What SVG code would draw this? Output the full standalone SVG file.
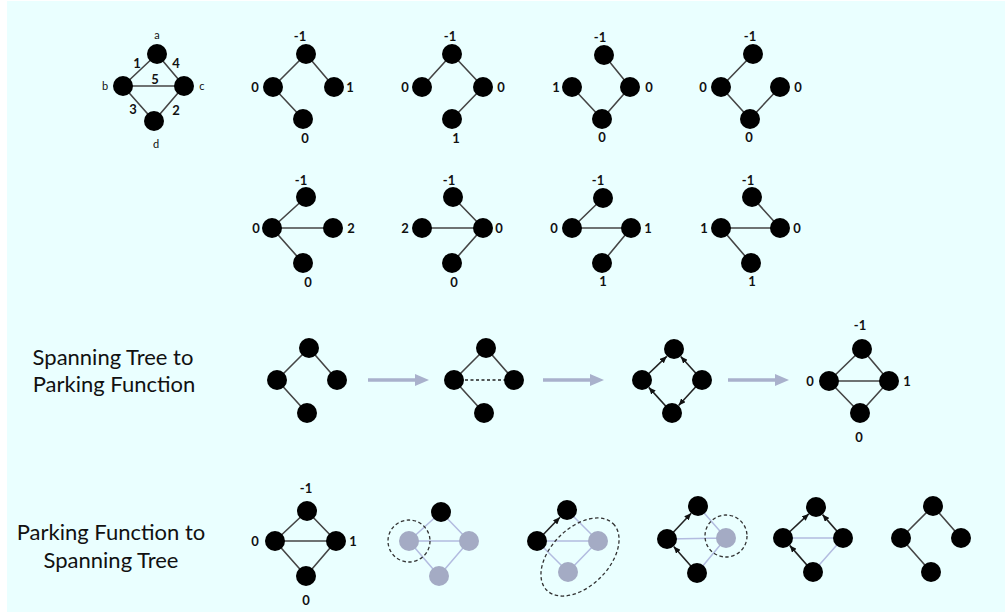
<svg xmlns="http://www.w3.org/2000/svg" width="1005" height="612" viewBox="0 0 1005 612">
<style>
.e{stroke:#454545;stroke-width:1.6;fill:none}
.el{stroke:#b3bce0;stroke-width:1.5;fill:none}
.ed{stroke:#222;stroke-width:1.6;stroke-dasharray:3 2.5;fill:none}
.ea{stroke:#222;stroke-width:1.6;fill:none;marker-end:url(#ah)}
.big{stroke:#a9b1cc;stroke-width:3.5;fill:none;marker-end:url(#bah)}
.dc{stroke:#333;stroke-width:1.3;stroke-dasharray:3.5 2.5;fill:none}
.n{fill:#000}
.ng{fill:#a4abc4}
.l{font-family:Lato,"Open Sans",sans-serif;font-weight:bold;font-size:13px;fill:#111;text-anchor:middle}
.s{font-family:Lato,"Open Sans",sans-serif;font-size:11px;fill:#111;text-anchor:middle}
.t{font-family:Lato,"Open Sans",sans-serif;font-size:22px;fill:#111;text-anchor:middle}
</style>
<defs>
<marker id="ah" markerUnits="userSpaceOnUse" markerWidth="7" markerHeight="6" refX="7" refY="3" orient="auto"><path d="M0,0 L7,3 L0,6 z" fill="#111"/></marker>
<marker id="bah" markerUnits="userSpaceOnUse" markerWidth="14" markerHeight="12" refX="2" refY="6" orient="auto"><path d="M0,0 L14,6 L0,12 z" fill="#a9b1cc"/></marker>
</defs>
<rect x="7" y="1" width="998" height="611" fill="#eaffff"/>

<g id="connectors">
<path class="e" d="M157,54 L123,86 M157,54 L184,86 M123,86 L184,86 M123,86 L154,121 M184,86 L154,121"/>
<path class="e" d="M306,54 L273,87 M273,87 L303,119 M306,54 L334,87"/>
<path class="e" d="M452,54 L422,87 M452,54 L483,87 M483,87 L452,119"/>
<path class="e" d="M604,55 L630,87 M630,87 L602,119 M572,87 L602,119"/>
<path class="e" d="M753,54 L721,87 M721,87 L750,119 M750,119 L780,87"/>
<path class="e" d="M306,197 L272,228 M272,228 L333,228 M272,228 L303,263"/>
<path class="e" d="M453,197 L483,228 M422,228 L483,228 M483,228 L452,263"/>
<path class="e" d="M603,198 L572,228 M572,228 L631,228 M631,228 L602,263"/>
<path class="e" d="M752,197 L780,228 M721,228 L780,228 M721,228 L751,263"/>
<path class="e" d="M309,348 L277,380 M309,348 L337,380 M277,380 L307,413"/>
<line class="big" x1="368" y1="380" x2="417" y2="380"/>
<path class="e" d="M486,348 L454,380 M486,348 L514,380 M454,380 L484,413"/>
<path class="ed" d="M454,380 L514,380"/>
<line class="big" x1="543" y1="380" x2="592" y2="380"/>
<path class="ea" d="M642,380 L666.8,356.3"/>
<path class="ea" d="M702,380 L680.7,356.5"/>
<path class="ea" d="M702,380 L678.6,405.5"/>
<path class="ea" d="M672,413 L648.8,387.4"/>
<line class="big" x1="728" y1="380" x2="777" y2="380"/>
<path class="e" d="M862,349 L829,381 M862,349 L889,381 M829,381 L889,381 M829,381 L860,413 M889,381 L860,413"/>
<path class="e" d="M307,511 L275,541 M307,511 L336,541 M275,541 L336,541 M275,541 L306,576 M336,541 L306,576"/>
<path class="el" d="M441,512 L409,541 M441,512 L469,541 M409,541 L469,541 M409,541 L439,576 M469,541 L439,576"/>
<path class="el" d="M567,510 L598,541 M537,541 L598,541 M537,541 L568,572 M598,541 L568,572"/>
<path class="ea" d="M537,541 L560,517.3"/>
<path class="el" d="M698,506 L726,538 M667,539 L726,538 M726,538 L697,573"/>
<path class="ea" d="M667,539 L691.2,513.3"/>
<path class="ea" d="M697,573 L673.7,546.5"/>
<path class="el" d="M783,538 L843,538 M843,538 L813,572"/>
<path class="ea" d="M783,538 L808.8,513.9"/>
<path class="ea" d="M843,538 L822.5,514.6"/>
<path class="ea" d="M813,572 L789.7,545.4"/>
<path class="e" d="M933,506 L901,538 M933,506 L961,538 M901,538 L931,572"/>
</g>

<g id="key-graph">
<circle class="n" cx="157" cy="54" r="10"/><circle class="n" cx="123" cy="86" r="10"/><circle class="n" cx="184" cy="86" r="10"/><circle class="n" cx="154" cy="121" r="10"/>
<text class="s" x="157" y="39">a</text><text class="s" x="105" y="90">b</text><text class="s" x="202" y="90">c</text><text class="s" x="156" y="148">d</text>
<text class="l" x="137" y="68">1</text><text class="l" x="176" y="68">4</text><text class="l" x="155" y="84">5</text><text class="l" x="133" y="114">3</text><text class="l" x="176" y="115">2</text>
</g>

<g id="tree1">
<circle class="n" cx="306" cy="54" r="10"/><circle class="n" cx="273" cy="87" r="10"/><circle class="n" cx="334" cy="87" r="10"/><circle class="n" cx="303" cy="119" r="10"/>
<text class="l" x="300" y="41">-1</text><text class="l" x="255" y="92">0</text><text class="l" x="350" y="92">1</text><text class="l" x="305" y="143">0</text>
</g>
<g id="tree2">
<circle class="n" cx="452" cy="54" r="10"/><circle class="n" cx="422" cy="87" r="10"/><circle class="n" cx="483" cy="87" r="10"/><circle class="n" cx="452" cy="119" r="10"/>
<text class="l" x="450" y="41">-1</text><text class="l" x="405" y="92">0</text><text class="l" x="501" y="92">0</text><text class="l" x="456" y="143">1</text>
</g>
<g id="tree3">
<circle class="n" cx="604" cy="55" r="10"/><circle class="n" cx="572" cy="87" r="10"/><circle class="n" cx="630" cy="87" r="10"/><circle class="n" cx="602" cy="119" r="10"/>
<text class="l" x="600" y="42">-1</text><text class="l" x="556" y="92">1</text><text class="l" x="649" y="92">0</text><text class="l" x="602" y="142">0</text>
</g>
<g id="tree4">
<circle class="n" cx="753" cy="54" r="10"/><circle class="n" cx="721" cy="87" r="10"/><circle class="n" cx="780" cy="87" r="10"/><circle class="n" cx="750" cy="119" r="10"/>
<text class="l" x="750" y="41">-1</text><text class="l" x="703" y="92">0</text><text class="l" x="798" y="92">0</text><text class="l" x="749" y="142">0</text>
</g>

<g id="tree5">
<circle class="n" cx="306" cy="197" r="10"/><circle class="n" cx="272" cy="228" r="10"/><circle class="n" cx="333" cy="228" r="10"/><circle class="n" cx="303" cy="263" r="10"/>
<text class="l" x="301" y="185">-1</text><text class="l" x="256" y="233">0</text><text class="l" x="351" y="233">2</text><text class="l" x="308" y="287">0</text>
</g>
<g id="tree6">
<circle class="n" cx="453" cy="197" r="10"/><circle class="n" cx="422" cy="228" r="10"/><circle class="n" cx="483" cy="228" r="10"/><circle class="n" cx="452" cy="263" r="10"/>
<text class="l" x="449" y="185">-1</text><text class="l" x="405" y="233">2</text><text class="l" x="499" y="233">0</text><text class="l" x="454" y="287">0</text>
</g>
<g id="tree7">
<circle class="n" cx="603" cy="198" r="10"/><circle class="n" cx="572" cy="228" r="10"/><circle class="n" cx="631" cy="228" r="10"/><circle class="n" cx="602" cy="263" r="10"/>
<text class="l" x="598" y="185">-1</text><text class="l" x="554" y="233">0</text><text class="l" x="648" y="233">1</text><text class="l" x="603" y="286">1</text>
</g>
<g id="tree8">
<circle class="n" cx="752" cy="197" r="10"/><circle class="n" cx="721" cy="228" r="10"/><circle class="n" cx="780" cy="228" r="10"/><circle class="n" cx="751" cy="263" r="10"/>
<text class="l" x="748" y="185">-1</text><text class="l" x="704" y="233">1</text><text class="l" x="797" y="233">0</text><text class="l" x="752" y="286">1</text>
</g>

<g id="label-st-pf">
<text class="t" x="113" y="365">Spanning Tree to</text>
<text class="t" x="114" y="392">Parking Function</text>
</g>
<g id="graph-a">
<circle class="n" cx="309" cy="348" r="10"/><circle class="n" cx="277" cy="380" r="10"/><circle class="n" cx="337" cy="380" r="10"/><circle class="n" cx="307" cy="413" r="10"/>
</g>
<g id="graph-b">
<circle class="n" cx="486" cy="348" r="10"/><circle class="n" cx="454" cy="380" r="10"/><circle class="n" cx="514" cy="380" r="10"/><circle class="n" cx="484" cy="413" r="10"/>
</g>
<g id="graph-c">
<circle class="n" cx="674" cy="349" r="10"/><circle class="n" cx="642" cy="380" r="10"/><circle class="n" cx="702" cy="380" r="10"/><circle class="n" cx="672" cy="413" r="10"/>
</g>
<g id="graph-d">
<circle class="n" cx="862" cy="349" r="10"/><circle class="n" cx="829" cy="381" r="10"/><circle class="n" cx="889" cy="381" r="10"/><circle class="n" cx="860" cy="413" r="10"/>
<text class="l" x="860" y="330">-1</text><text class="l" x="810" y="386">0</text><text class="l" x="907" y="386">1</text><text class="l" x="859" y="442">0</text>
</g>

<g id="label-pf-st">
<text class="t" x="111" y="540">Parking Function to</text>
<text class="t" x="111" y="568">Spanning Tree</text>
</g>
<g id="graph-e">
<circle class="n" cx="307" cy="511" r="10"/><circle class="n" cx="275" cy="541" r="10"/><circle class="n" cx="336" cy="541" r="10"/><circle class="n" cx="306" cy="576" r="10"/>
<text class="l" x="306" y="493">-1</text><text class="l" x="255" y="546">0</text><text class="l" x="353" y="546">1</text><text class="l" x="306" y="605">0</text>
</g>
<g id="graph-f">
<circle class="n" cx="441" cy="512" r="10"/><circle class="ng" cx="409" cy="541" r="10"/><circle class="ng" cx="469" cy="541" r="10"/><circle class="ng" cx="439" cy="576" r="10"/>
<circle class="dc" cx="409" cy="541" r="21"/>
</g>
<g id="graph-g">
<circle class="n" cx="567" cy="510" r="10"/><circle class="n" cx="537" cy="541" r="10"/><circle class="ng" cx="598" cy="541" r="10"/><circle class="ng" cx="568" cy="572" r="10"/>
<ellipse class="dc" cx="580" cy="557" rx="47" ry="29" transform="rotate(-45 580 557)"/>
</g>
<g id="graph-h">
<circle class="n" cx="698" cy="506" r="10"/><circle class="n" cx="667" cy="539" r="10"/><circle class="ng" cx="726" cy="538" r="10"/><circle class="n" cx="697" cy="573" r="10"/>
<circle class="dc" cx="726" cy="536" r="21"/>
</g>
<g id="graph-i">
<circle class="n" cx="816" cy="507" r="10"/><circle class="n" cx="783" cy="538" r="10"/><circle class="n" cx="843" cy="538" r="10"/><circle class="n" cx="813" cy="572" r="10"/>
</g>
<g id="graph-j">
<circle class="n" cx="933" cy="506" r="10"/><circle class="n" cx="901" cy="538" r="10"/><circle class="n" cx="961" cy="538" r="10"/><circle class="n" cx="931" cy="572" r="10"/>
</g>
</svg>
